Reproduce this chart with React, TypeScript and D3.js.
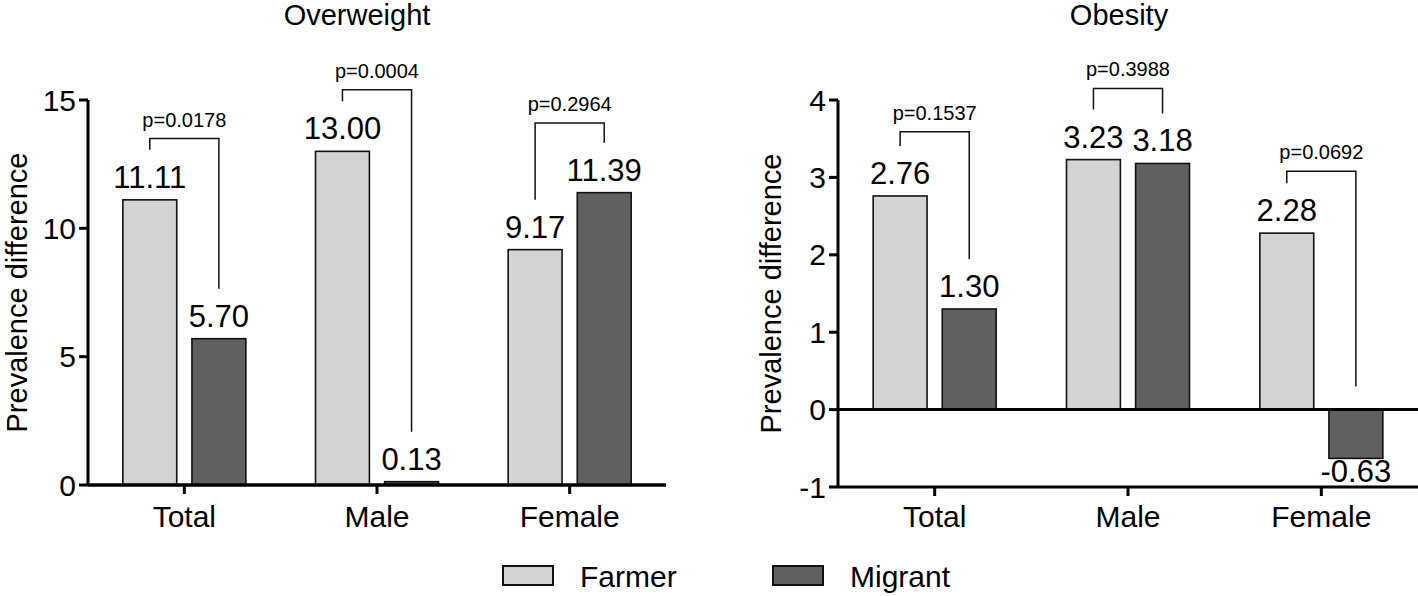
import React from 'react';
import * as d3 from 'd3';

const categories = ['Total', 'Male', 'Female'];
const seriesNames = ['Farmer', 'Migrant'];
const seriesColors = ['#d3d3d3', '#606060'];

const overweightFarmer = [11.11, 13.0, 9.17];
const overweightMigrant = [5.7, 0.13, 11.39];
const overweightP = ['p=0.0178', 'p=0.0004', 'p=0.2964'];
const overweightBracket = [13.5, 15.4, 14.1];
const overweightTicks = [0, 5, 10, 15];

const obesityFarmer = [2.76, 3.23, 2.28];
const obesityMigrant = [1.3, 3.18, -0.63];
const obesityP = ['p=0.1537', 'p=0.3988', 'p=0.0692'];
const obesityBracket = [3.59, 4.15, 3.08];
const obesityTicks = [-1, 0, 1, 2, 3, 4];

const font = '"Liberation Sans", Arial, sans-serif';

type PanelProps = {
  title: string;
  titleX: number;
  farmer: number[];
  migrant: number[];
  pLabels: string[];
  bracket: number[];
  ticks: number[];
  domain: [number, number];
  xRange: [number, number];
  yRange: [number, number];
  labelX: number;
};

const Panel = ({ title, titleX, farmer, migrant, pLabels, bracket, ticks, domain, xRange, yRange, labelX }: PanelProps) => {
  const y = d3.scaleLinear().domain(domain).range(yRange);
  const x0 = d3.scaleBand().domain(categories).range(xRange);
  const groupW = 123;
  const x1 = d3.scaleBand().domain(seriesNames).range([0, groupW]).paddingInner(0.22);
  const left = xRange[0];
  const right = xRange[1];
  const y0 = y(0);
  const yBottom = y(domain[0]);

  return (
    <g fontFamily={font}>
      <text x={titleX} y={25} fontSize={29} textAnchor='middle'>{title}</text>
      <text
        transform={`translate(${labelX},${(yRange[0] + yRange[1]) / 2}) rotate(-90)`}
        fontSize={29}
        textAnchor='middle'
      >
        Prevalence difference
      </text>

      {/* bars */}
      {categories.map((c, i) => {
        const gx = (x0(c) as number) + (x0.bandwidth() - groupW) / 2;
        const vals = [farmer[i], migrant[i]];
        const cx = vals.map((_, j) => gx + (x1(seriesNames[j]) as number) + x1.bandwidth() / 2);
        const legEnd = vals.map((v) => (v >= 0 ? y(v) - 50 : y0 - 23));
        const by = y(bracket[i]);
        return (
          <g key={c}>
            {vals.map((v, j) => (
              <g key={j}>
                <rect
                  x={gx + (x1(seriesNames[j]) as number)}
                  y={Math.min(y(v), y0)}
                  width={x1.bandwidth()}
                  height={Math.abs(y(v) - y0)}
                  fill={seriesColors[j]}
                  stroke='#111'
                  strokeWidth={1.6}
                />
                <text
                  x={cx[j]}
                  y={v >= 0 ? y(v) - 12 : y(v) + 24}
                  fontSize={31}
                  textAnchor='middle'
                >
                  {v.toFixed(2)}
                </text>
              </g>
            ))}
            <path
              d={`M${cx[0]},${legEnd[0]}V${by}H${cx[1]}V${legEnd[1]}`}
              fill='none'
              stroke='#111'
              strokeWidth={1.5}
            />
            <text x={(cx[0] + cx[1]) / 2} y={by - 12} fontSize={20} textAnchor='middle'>
              {pLabels[i]}
            </text>
          </g>
        );
      })}

      {/* y axis */}
      <line x1={left} x2={left} y1={y(domain[1])} y2={yBottom} stroke='#000' strokeWidth={3} />
      {ticks.map((t) => (
        <g key={t}>
          <line x1={left - 9} x2={left} y1={y(t)} y2={y(t)} stroke='#000' strokeWidth={3} />
          <text x={left - 12} y={y(t)} dy='0.35em' fontSize={30} textAnchor='end'>{t}</text>
        </g>
      ))}

      {/* zero line and x axis */}
      <line x1={left} x2={right} y1={y0} y2={y0} stroke='#000' strokeWidth={3} />
      <line x1={left} x2={right} y1={yBottom} y2={yBottom} stroke='#000' strokeWidth={3} />
      {categories.map((c) => {
        const cx = (x0(c) as number) + x0.bandwidth() / 2;
        return (
          <g key={c}>
            <line x1={cx} x2={cx} y1={yBottom} y2={yBottom + 9} stroke='#000' strokeWidth={3} />
            <text x={cx} y={527} fontSize={30} textAnchor='middle'>{c}</text>
          </g>
        );
      })}
    </g>
  );
};

const App = () => {
  const width = 1418;
  const height = 596;
  const legendX = [503, 773];

  return (
    <svg width={width} height={height} style={{ position: 'absolute', left: 0, top: 0, background: '#fff' }}>
      <Panel
        title='Overweight'
        titleX={357}
        farmer={overweightFarmer}
        migrant={overweightMigrant}
        pLabels={overweightP}
        bracket={overweightBracket}
        ticks={overweightTicks}
        domain={[0, 15]}
        xRange={[88, 666]}
        yRange={[485, 100]}
        labelX={27}
      />
      <Panel
        title='Obesity'
        titleX={1119}
        farmer={obesityFarmer}
        migrant={obesityMigrant}
        pLabels={obesityP}
        bracket={obesityBracket}
        ticks={obesityTicks}
        domain={[-1, 4]}
        xRange={[838, 1418]}
        yRange={[487, 100]}
        labelX={781}
      />
      {seriesNames.map((s, i) => (
        <g key={s} fontFamily={font}>
          <rect x={legendX[i]} y={566} width={50} height={19} fill={seriesColors[i]} stroke='#111' strokeWidth={2} />
          <text x={legendX[i] + 77} y={587} fontSize={30}>{s}</text>
        </g>
      ))}
    </svg>
  );
};

export default App;
